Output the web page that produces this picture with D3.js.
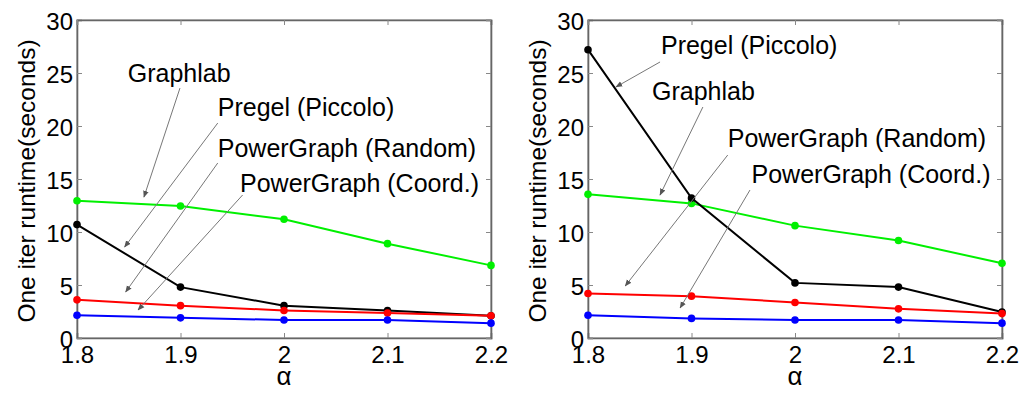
<!DOCTYPE html>
<html>
<head>
<meta charset="utf-8">
<script src="https://cdn.jsdelivr.net/npm/d3@7"></script>
<style>
  body { margin: 0; background: #fff; }
  text { font-family: "Liberation Sans", Arial, Helvetica, sans-serif; fill: #000; }
</style>
</head>
<body>
<div id="chart"></div>
<script>
// x values (alpha)
const alphas = [1.8, 1.9, 2.0, 2.1, 2.2];
const xTicks = [1.8, 1.9, 2, 2.1, 2.2];
const yTicks = [0, 5, 10, 15, 20, 25, 30];

// left panel
const leftGraphlab = [12.95, 12.45, 11.2, 8.9, 6.85];
const leftPregel = [10.7, 4.8, 3.05, 2.6, 2.1];
const leftPGRandom = [3.6, 3.05, 2.6, 2.35, 2.1];
const leftPGCoord = [2.15, 1.9, 1.7, 1.7, 1.4];

// right panel
const rightGraphlab = [13.55, 12.7, 10.6, 9.2, 7.05];
const rightPregel = [27.2, 13.2, 5.2, 4.8, 2.45];
const rightPGRandom = [4.2, 3.95, 3.35, 2.75, 2.3];
const rightPGCoord = [2.15, 1.85, 1.7, 1.7, 1.4];

// annotation labels (text position and arrow, in data units)
const leftNotes = [
  { text: 'Graphlab', tx: 1.849, ty: 24.15, from: [1.8995, 23.58], to: [1.8647, 13.3] },
  { text: 'Pregel (Piccolo)', tx: 1.936, ty: 20.94, from: [1.936, 20.28], to: [1.846, 8.58] },
  { text: 'PowerGraph (Random)', tx: 1.936, ty: 17.08, from: [1.936, 16.51], to: [1.847, 4.34] },
  { text: 'PowerGraph (Coord.)', tx: 1.9575, ty: 13.77, from: [1.96, 13.49], to: [1.859, 2.64] },
];
const rightNotes = [
  { text: 'Pregel (Piccolo)', tx: 1.8705, ty: 26.79, from: [1.8696, 26.04], to: [1.827, 23.68] },
  { text: 'Graphlab', tx: 1.8618, ty: 22.45, from: [1.911, 21.79], to: [1.8696, 13.49] },
  { text: 'PowerGraph (Random)', tx: 1.935, ty: 18.02, from: [1.935, 17.26], to: [1.836, 4.91] },
  { text: 'PowerGraph (Coord.)', tx: 1.958, ty: 14.62, from: [1.9565, 13.96], to: [1.889, 2.83] },
];

const colors = { graphlab: '#00f000', pregel: '#000000', random: '#ff0000', coord: '#0000ff' };

const width = 1022;
const height = 393;
const panels = [
  { left: 77, right: 491, top: 20, bottom: 338, series: [
    { values: leftGraphlab, color: colors.graphlab },
    { values: leftPregel, color: colors.pregel },
    { values: leftPGRandom, color: colors.random },
    { values: leftPGCoord, color: colors.coord },
  ], notes: leftNotes },
  { left: 588, right: 1002, top: 20, bottom: 338, series: [
    { values: rightGraphlab, color: colors.graphlab },
    { values: rightPregel, color: colors.pregel },
    { values: rightPGRandom, color: colors.random },
    { values: rightPGCoord, color: colors.coord },
  ], notes: rightNotes },
];

const svg = d3.select('#chart')
  .append('svg')
  .attr('width', width)
  .attr('height', height);

svg.append('defs').append('marker')
  .attr('id', 'arrow')
  .attr('viewBox', '0 0 10 10')
  .attr('refX', 9)
  .attr('refY', 5)
  .attr('markerWidth', 7)
  .attr('markerHeight', 7)
  .attr('markerUnits', 'userSpaceOnUse')
  .attr('orient', 'auto')
  .append('path')
  .attr('d', 'M0,1 L10,5 L0,9 Z')
  .attr('fill', '#555');

panels.forEach((p) => {
  const x = d3.scaleLinear().domain([1.8, 2.2]).range([p.left, p.right]);
  const y = d3.scaleLinear().domain([0, 30]).range([p.bottom, p.top]);
  const g = svg.append('g');

  // box
  g.append('rect')
    .attr('x', p.left)
    .attr('y', p.top)
    .attr('width', p.right - p.left)
    .attr('height', p.bottom - p.top)
    .attr('fill', 'none')
    .attr('stroke', '#777')
    .attr('stroke-width', 1);

  const xAxis = d3.axisBottom(x).tickValues(xTicks).tickSize(-5).tickPadding(6).tickFormat(d3.format('~g'));
  const yAxis = d3.axisLeft(y).tickValues(yTicks).tickSize(-5).tickPadding(4);

  const gx = g.append('g').attr('transform', `translate(0,${p.bottom})`).call(xAxis);
  const gy = g.append('g').attr('transform', `translate(${p.left},0)`).call(yAxis);
  g.append('g').attr('transform', `translate(0,${p.top})`)
    .call(d3.axisTop(x).tickValues(xTicks).tickSize(-5).tickFormat(''));
  g.append('g').attr('transform', `translate(${p.right},0)`)
    .call(d3.axisRight(y).tickValues(yTicks).tickSize(-5).tickFormat(''));

  g.selectAll('.domain').attr('stroke', '#666').attr('stroke-width', 1.6);
  g.selectAll('.tick line').attr('stroke', '#888');
  gx.selectAll('text').attr('font-size', 24).attr('font-family', 'Liberation Sans, Arial, sans-serif').attr('dy', '0.78em');
  gy.selectAll('text').attr('font-size', 24).attr('font-family', 'Liberation Sans, Arial, sans-serif').attr('dy', '0.4em');

  // axis titles
  g.append('text')
    .attr('x', (p.left + p.right) / 2)
    .attr('y', 385)
    .attr('text-anchor', 'middle')
    .attr('font-size', 26)
    .text('α');
  g.append('text')
    .attr('transform', `translate(${p.left - 42},${(p.top + p.bottom) / 2 + 2}) rotate(-90)`)
    .attr('text-anchor', 'middle')
    .attr('font-size', 24.5)
    .text('One iter runtime(seconds)');

  // series
  const line = d3.line().x((d, i) => x(alphas[i])).y(d => y(d));
  p.series.forEach((s) => {
    g.append('path')
      .datum(s.values)
      .attr('d', line)
      .attr('fill', 'none')
      .attr('stroke', s.color)
      .attr('stroke-width', 2);
    g.selectAll(null)
      .data(s.values)
      .enter()
      .append('circle')
      .attr('cx', (d, i) => x(alphas[i]))
      .attr('cy', d => y(d))
      .attr('r', 3.8)
      .attr('fill', s.color);
  });

  // annotations
  p.notes.forEach((n) => {
    g.append('line')
      .attr('x1', x(n.from[0]))
      .attr('y1', y(n.from[1]))
      .attr('x2', x(n.to[0]))
      .attr('y2', y(n.to[1]))
      .attr('stroke', '#777')
      .attr('stroke-width', 1)
      .attr('marker-end', 'url(#arrow)');
    g.append('text')
      .attr('x', x(n.tx))
      .attr('y', y(n.ty))
      .attr('font-size', 25)
      .text(n.text);
  });
});
</script>
</body>
</html>
